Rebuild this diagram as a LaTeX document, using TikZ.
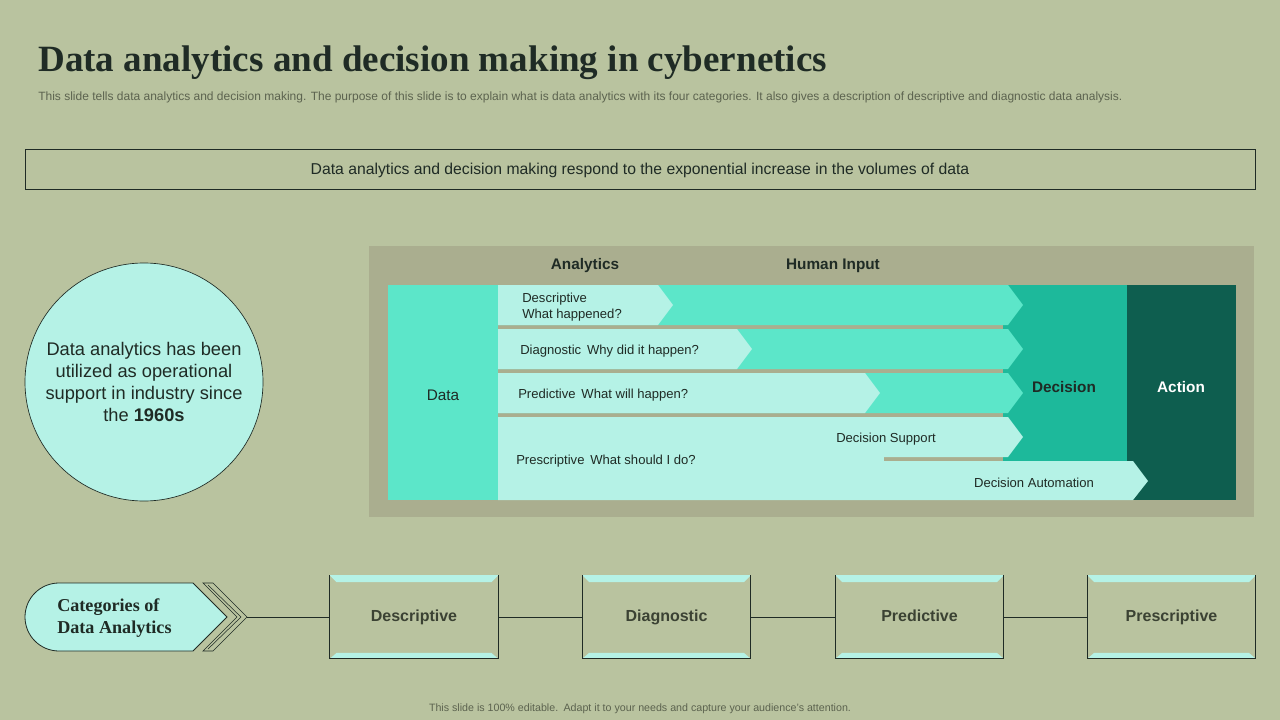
\documentclass[tikz,border=0pt]{standalone}
\usepackage{fontspec}
\setmainfont{Liberation Sans}
\newfontfamily\serifface{Liberation Serif}
\usetikzlibrary{positioning}

\definecolor{slidebg}{HTML}{B9C39F}
\definecolor{panelgray}{HTML}{AAAE8F}
\definecolor{mintlight}{HTML}{B5F2E6}
\definecolor{mintmid}{HTML}{5CE6C9}
\definecolor{decgreen}{HTML}{1DB99B}
\definecolor{actgreen}{HTML}{0E5E4F}
\definecolor{inkdark}{HTML}{1F2B25}
\definecolor{inkgray}{HTML}{5C634F}
\definecolor{boxtext}{HTML}{3B4233}

\begin{document}
\begin{tikzpicture}[x=0.75pt, y=-0.75pt,
        rowtext/.style={anchor=west, align=left, inner sep=0pt, text=inkdark, font=\fontsize{9.8}{12}\selectfont},
        head/.style={text=inkdark, font=\bfseries\fontsize{11.5}{14}\selectfont},
        catbox/.style={minimum width=126pt, minimum height=62.25pt, text height=9pt, text depth=2.5pt, text=boxtext, font=\bfseries\fontsize{12}{14}\selectfont},
        boxline/.style={draw=inkdark, line width=0.6pt}
    ]

    % Hintergrund
    \fill[slidebg] (0,0) rectangle (1280,720);
    \useasboundingbox (0,0) rectangle (1280,720);

    % Titel
    \node[anchor=base west, inner sep=0pt, text=inkdark, font=\serifface\bfseries\fontsize{27.8}{32}\selectfont] (title) at (38,72) {Data analytics and decision making in cybernetics};
    \node[anchor=base west, inner sep=0pt, text=inkgray, font=\fontsize{9}{10}\selectfont] (subtitle) at (38,101) {This slide tells data analytics and decision making. The purpose of this slide is to explain what is data analytics with its four categories. It also gives a description of descriptive and diagnostic data analysis.};

    % Banner
    \node[boxline, minimum width=922.5pt, minimum height=30pt, text depth=0.5pt, text=inkdark, font=\fontsize{11.8}{14}\selectfont] (banner) at (640,169) {Data analytics and decision making respond to the exponential increase in the volumes of data};

    % Kreis
    \node[circle, draw=inkdark, line width=0.5pt, fill=mintlight, minimum size=178.5pt, align=center, text=inkdark, font=\fontsize{13.7}{16.5}\selectfont] (fact) at (144,382) {Data analytics has been\\utilized as operational\\support in industry since\\the \textbf{1960s}};

    % Panel
    \fill[panelgray] (369,246) rectangle (1254,517);
    \node[head] (analytics) at (585,266) {Analytics};
    \node[head] (human) at (833,266) {Human Input};
    \fill[mintmid] (388,285) rectangle (498,500);
    \node[text=inkdark, font=\fontsize{11.5}{14}\selectfont] (data) at (443,395) {Data};
    \fill[decgreen] (1003,285) rectangle (1127,461);
    \fill[actgreen] (1127,285) rectangle (1236,500);
    \node[head] (decision) at (1064,387) {Decision};
    \node[head, text=white] (action) at (1181,387) {Action};

    % Pfeile
    \foreach \t/\b in {285/325, 329/369, 373/413}
        \fill[mintmid] (498,\t) -- (1008,\t) -- (1023,{(\t+\b)/2}) -- (1008,\b) -- (498,\b) -- cycle;
    \foreach \t/\b/\e in {285/325/658, 329/369/737, 373/413/865}
        \fill[mintlight] (498,\t) -- (\e,\t) -- ({\e+15},{(\t+\b)/2}) -- (\e,\b) -- (498,\b) -- cycle;
    \fill[mintlight] (498,417) -- (1008,417) -- (1023,437) -- (1008,457) -- (498,457) -- cycle;
    \fill[mintlight] (498,461) -- (1133,461) -- (1148,481) -- (1133,500) -- (498,500) -- cycle;
    \fill[mintlight] (498,456) rectangle (884,462);

    \node[rowtext] (r1) at (522,307) {Descriptive\\What happened?};
    \node[rowtext] (r2) at (520,351) {Diagnostic\, Why did it happen?};
    \node[rowtext] (r3) at (518,395) {Predictive\, What will happen?};
    \node[rowtext] (r4) at (516,461) {Prescriptive\, What should I do?};
    \node[rowtext, anchor=center] (support) at (886,439) {Decision Support};
    \node[rowtext, anchor=center] (automation) at (1034,483) {Decision Automation};

    % Kategorien
    \fill[mintlight] (59,583) -- (193,583) -- (227,617) -- (193,651) -- (59,651) arc[start angle=90, end angle=270, radius=34] -- cycle;
    \draw[inkdark, line width=0.6pt] (59,583) -- (193,583) -- (227,617) -- (193,651) -- (59,651) arc[start angle=90, end angle=270, radius=34] -- cycle;
    \node[anchor=west, align=left, inner sep=0pt, text=inkdark, font=\serifface\bfseries\fontsize{13.6}{16.5}\selectfont] (cattext) at (57,618) {Categories of\\Data Analytics};
    \draw[inkdark, line width=0.5pt] (203,583) -- (213,583) -- (247,617) -- (213,651) -- (203,651) -- (237,617) -- cycle;
    \draw[inkdark, line width=0.4pt] (208,585) -- (241,617) -- (208,649);
    \coordinate (chevtip) at (247,617);

    \node[catbox] (desc) at (414,617) {Descriptive};
    \node[catbox] (diag) at (666.5,617) {Diagnostic};
    \node[catbox] (pred) at (919.5,617) {Predictive};
    \node[catbox] (presc) at (1171.5,617) {Prescriptive};
    \foreach \b in {desc, diag, pred, presc} {
        \fill[mintlight] (\b.north west) -- (\b.north east) -- ([shift={(-7,7)}]\b.north east) -- ([shift={(7,7)}]\b.north west) -- cycle;
        \fill[mintlight] (\b.south west) -- (\b.south east) -- ([shift={(-7,-6)}]\b.south east) -- ([shift={(7,-6)}]\b.south west) -- cycle;
        \draw[boxline] (\b.north west) -- (\b.south west) -- (\b.south east) -- (\b.north east);
    }
    \draw[boxline] (chevtip) -- (desc.west);
    \draw[boxline] (desc) -- (diag);
    \draw[boxline] (diag) -- (pred);
    \draw[boxline] (pred) -- (presc);

    % Fusszeile
    \node[text=inkgray, font=\fontsize{8}{9}\selectfont] (footer) at (640,709) {This slide is 100\% editable.\enspace Adapt it to your needs and capture your audience's attention.};
\end{tikzpicture}
\end{document}
